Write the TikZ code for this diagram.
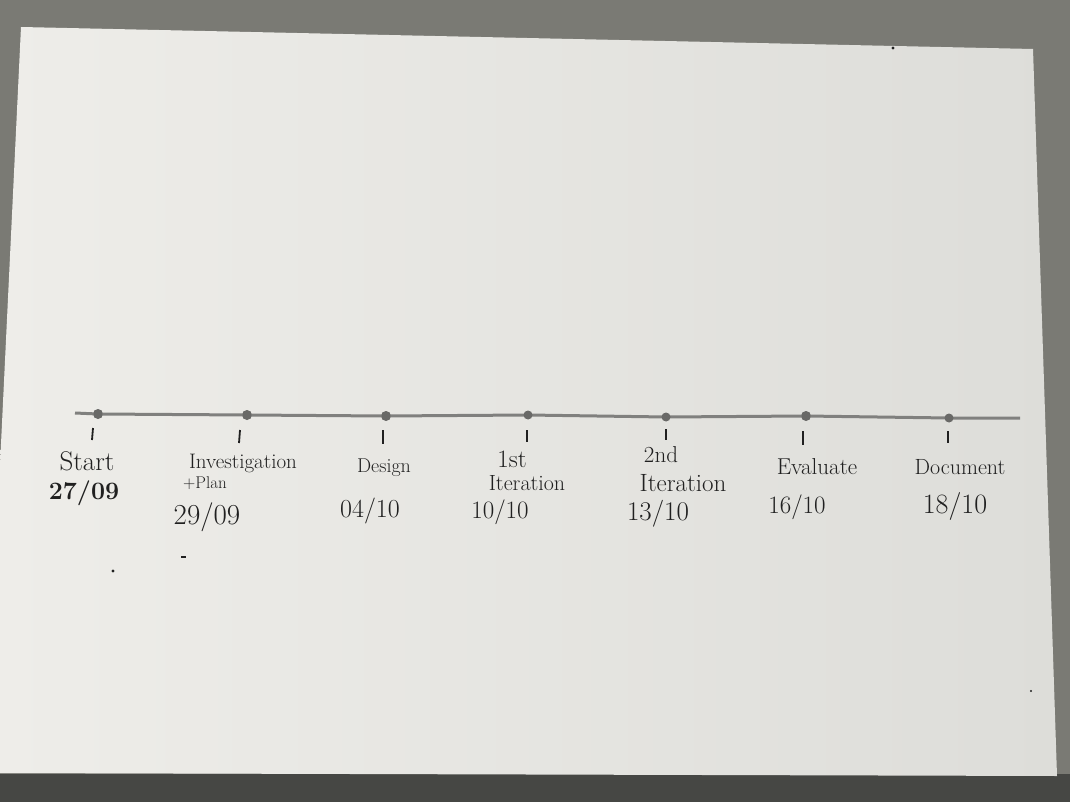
\documentclass[tikz,border=0pt]{standalone}
\begin{document}
\begin{tikzpicture}[x=1pt,y=-1pt,
  ink/.style={text=inkc, inner sep=0pt},
  lab/.style={ink, font=\fontsize{22}{24}\selectfont},
  datelab/.style={ink, font=\fontsize{25}{27}\selectfont},
  dotmark/.style={circle, fill=dotc, minimum size=10pt, inner sep=0pt},
  tickline/.style={draw=inkc, line width=1.8pt},
  axisline/.style={draw=linec, line width=3pt},
  speck/.style={fill=inkc}]
\definecolor{bgtop}{RGB}{122,122,116}
\definecolor{bgbot}{RGB}{70,71,68}
\definecolor{paperl}{RGB}{238,237,233}
\definecolor{paperm}{RGB}{224,224,220}
\definecolor{paperr}{RGB}{221,221,217}
\definecolor{inkc}{RGB}{32,32,32}
\definecolor{linec}{RGB}{128,128,126}
\definecolor{dotc}{RGB}{105,105,103}
\useasboundingbox (0,0) rectangle (1070,802);
% background
\fill[bgtop] (0,0) rectangle (1070,802);
\fill[bgbot] (0,774) rectangle (1070,802);
% paper
\shade[left color=paperl, middle color=paperm, right color=paperr]
  (21,27) -- (1033,49) -- (1057,776) -- (0,773) -- (0,465) -- cycle;
% specks
\fill[speck] (113,571) circle (1.6);
\fill[speck] (181,556) rectangle (186,558);
\fill[speck] (893,48) circle (1.6);
\fill[speck] (1031,691) circle (1.2);
% timeline
\coordinate (l0) at (75,413);
\coordinate (l1) at (1020,418);
\node[dotmark] (d1) at (98,414) {};
\node[dotmark] (d2) at (247,415) {};
\node[dotmark] (d3) at (386,416) {};
\node[dotmark, minimum size=8pt] (d4) at (528,415) {};
\node[dotmark, minimum size=8pt] (d5) at (666,417) {};
\node[dotmark] (d6) at (806,416) {};
\node[dotmark, minimum size=8pt] (d7) at (949,418) {};
\draw[axisline] (l0) -- (d1.center) -- (d2.center) -- (d3.center) -- (d4.center) -- (d5.center) -- (d6.center) -- (d7.center) -- (l1);
\foreach \n in {d1,d2,d3,d4,d5,d6,d7} \fill[dotc] (\n) circle (4.5);
% ticks
\coordinate (t1a) at (93,428); \coordinate (t1b) at (92,440);
\coordinate (t2a) at (240,430); \coordinate (t2b) at (239,443);
\coordinate (t3a) at (383,430); \coordinate (t3b) at (383,444);
\coordinate (t4a) at (527,430); \coordinate (t4b) at (527,442);
\coordinate (t5a) at (666,429); \coordinate (t5b) at (666,440);
\coordinate (t6a) at (803,431); \coordinate (t6b) at (803,445);
\coordinate (t7a) at (948,431); \coordinate (t7b) at (948,443);
\foreach \i in {1,...,7} \draw[tickline] (t\i a) -- (t\i b);
% labels
\node[lab, font=\fontsize{27}{29}\selectfont] (s1) at (87,461) {Start};
\node[datelab, font=\fontsize{25}{27}\bfseries] (s2) at (84,493) {27/09};
\node[lab, font=\fontsize{21}{23}\selectfont] (i1) at (243,463) {Investigation};
\node[lab, font=\fontsize{17}{19}\selectfont] (i2) at (205,483) {+Plan};
\node[datelab, font=\fontsize{29}{31}\selectfont] (i3) at (207,517) {29/09};
\node[lab, font=\fontsize{20}{22}\selectfont] (g1) at (384,468) {Design};
\node[datelab, font=\fontsize{26}{28}\selectfont] (g2) at (370,511) {04/10};
\node[lab, font=\fontsize{25}{27}\selectfont] (f1) at (512,459) {1st};
\node[lab, font=\fontsize{22}{24}\selectfont] (f2) at (527,483) {Iteration};
\node[datelab, font=\fontsize{25}{27}\selectfont] (f3) at (500,512) {10/10};
\node[lab, font=\fontsize{23}{25}\selectfont] (n1) at (661,455) {2nd};
\node[lab, font=\fontsize{25}{27}\selectfont] (n2) at (683,483) {Iteration};
\node[datelab, font=\fontsize{27}{29}\selectfont] (n3) at (658,514) {13/10};
\node[lab, font=\fontsize{23}{25}\selectfont] (e1) at (817,467) {Evaluate};
\node[datelab, font=\fontsize{25}{27}\selectfont] (e2) at (797,507) {16/10};
\node[lab, font=\fontsize{22}{24}\selectfont] (c1) at (960,467) {Document};
\node[datelab, font=\fontsize{28}{30}\selectfont] (c2) at (955,506) {18/10};
\end{tikzpicture}
\end{document}
